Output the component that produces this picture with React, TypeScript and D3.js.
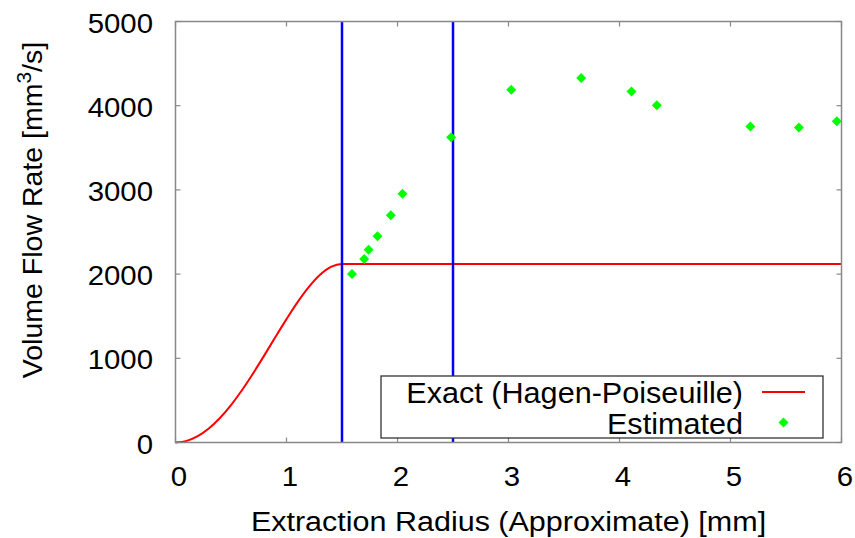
import React from "react";
import * as d3 from "d3";

const xTicks = [0, 1, 2, 3, 4, 5, 6];
const yTicks = [0, 1000, 2000, 3000, 4000, 5000];
const boundaryRadii = [1.5, 2.5];

// Exact (Hagen-Poiseuille) curve
const exactX = [0, 0.1, 0.2, 0.3, 0.4, 0.5, 0.6, 0.7, 0.8, 0.9, 1.0, 1.1, 1.2, 1.3, 1.4, 1.5, 6];
const exactY = [0, 19, 75, 166, 291, 445, 624, 823, 1035, 1252, 1465, 1667, 1845, 1989, 2085, 2120, 2120];

// Estimated points
const estX = [1.59, 1.70, 1.74, 1.82, 1.94, 2.045, 2.483, 3.025, 3.655, 4.108, 4.336, 5.179, 5.616, 5.958];
const estY = [2000, 2180, 2290, 2450, 2700, 2955, 3625, 4190, 4330, 4170, 4005, 3752, 3741, 3815];

const W = 855, H = 538;
const L = 175.5, R = 841.5, T = 21.5, B = 442.5;
const FONT = "'Liberation Sans', Arial, sans-serif";

function SText(props: { x: number; y: number; fs: number; sx: number; anchor: string; children: React.ReactNode }) {
  return (
    <text
      transform={`translate(${props.x},${props.y}) scale(${props.sx},1)`}
      fontSize={props.fs}
      textAnchor={props.anchor as any}
      fill="#000"
    >
      {props.children}
    </text>
  );
}

export default function App() {
  const x = d3.scaleLinear().domain([0, 6]).range([L, R]);
  const y = d3.scaleLinear().domain([0, 5000]).range([B, T]);
  const line = d3
    .line<number>()
    .x((_, i) => x(exactX[i]))
    .y((d) => y(d))
    .curve(d3.curveMonotoneX);
  const diamond = (cx: number, cy: number, r = 5) =>
    `M${cx},${cy - r}L${cx + r},${cy}L${cx},${cy + r}L${cx - r},${cy}Z`;
  const tickLen = 5;
  const frameColor = "#888";
  const fs = 28;

  return (
    <svg
      width={W}
      height={H}
      style={{ position: "absolute", left: 0, top: 0, background: "#fff" }}
      fontFamily={FONT}
    >
      <rect x={0} y={0} width={W} height={H} fill="#fff" />
      {/* ticks */}
      {xTicks.map((t) => (
        <g key={"xt" + t}>
          <line x1={x(t)} x2={x(t)} y1={B} y2={B - tickLen} stroke={frameColor} strokeWidth={1.2} />
          <line x1={x(t)} x2={x(t)} y1={T} y2={T + tickLen} stroke={frameColor} strokeWidth={1.2} />
          <SText x={x(t) + 3.5} y={486} fs={fs} sx={1.05} anchor="middle">
            {t}
          </SText>
        </g>
      ))}
      {yTicks.map((t) => (
        <g key={"yt" + t}>
          <line x1={L} x2={L + tickLen} y1={y(t)} y2={y(t)} stroke={frameColor} strokeWidth={1.2} />
          <line x1={R} x2={R - tickLen} y1={y(t)} y2={y(t)} stroke={frameColor} strokeWidth={1.2} />
          <SText x={153} y={y(t) + 11} fs={fs} sx={1.05} anchor="end">
            {t}
          </SText>
        </g>
      ))}
      {/* red exact curve */}
      <path d={line(exactY) || ""} fill="none" stroke="#ff0000" strokeWidth={2} />
      {/* blue boundary lines */}
      {boundaryRadii.map((r) => (
        <line key={"b" + r} x1={x(r)} x2={x(r)} y1={T} y2={B} stroke="#0000ff" strokeWidth={2.5} />
      ))}
      {/* estimated points */}
      {estX.map((v, i) => (
        <path key={"p" + i} d={diamond(x(v), y(estY[i]))} fill="#00ff00" />
      ))}
      {/* legend */}
      <rect x={381} y={376} width={442} height={62} fill="#fff" stroke="#333" strokeWidth={1.3} />
      <SText x={743} y={402.5} fs={30} sx={1.02} anchor="end">
        Exact (Hagen-Poiseuille)
      </SText>
      <line x1={762} x2={805} y1={392} y2={392} stroke="#ff0000" strokeWidth={2} />
      <SText x={743} y={433.5} fs={30} sx={1.02} anchor="end">
        Estimated
      </SText>
      <path d={diamond(783.5, 422.5)} fill="#00ff00" />
      {/* frame */}
      <rect x={L} y={T} width={R - L} height={B - T} fill="none" stroke={frameColor} strokeWidth={1.5} />
      {/* axis titles */}
      <SText x={(L + R) / 2} y={531} fs={fs} sx={1.09} anchor="middle">
        Extraction Radius (Approximate) [mm]
      </SText>
      <text
        transform={`translate(42,210) rotate(-90)`}
        fontSize={28.5}
        textAnchor="middle"
        fill="#000"
      >
        Volume Flow Rate [mm
        <tspan fontSize={21} dy={-11}>3</tspan>
        <tspan dy={11}>/s]</tspan>
      </text>
    </svg>
  );
}
